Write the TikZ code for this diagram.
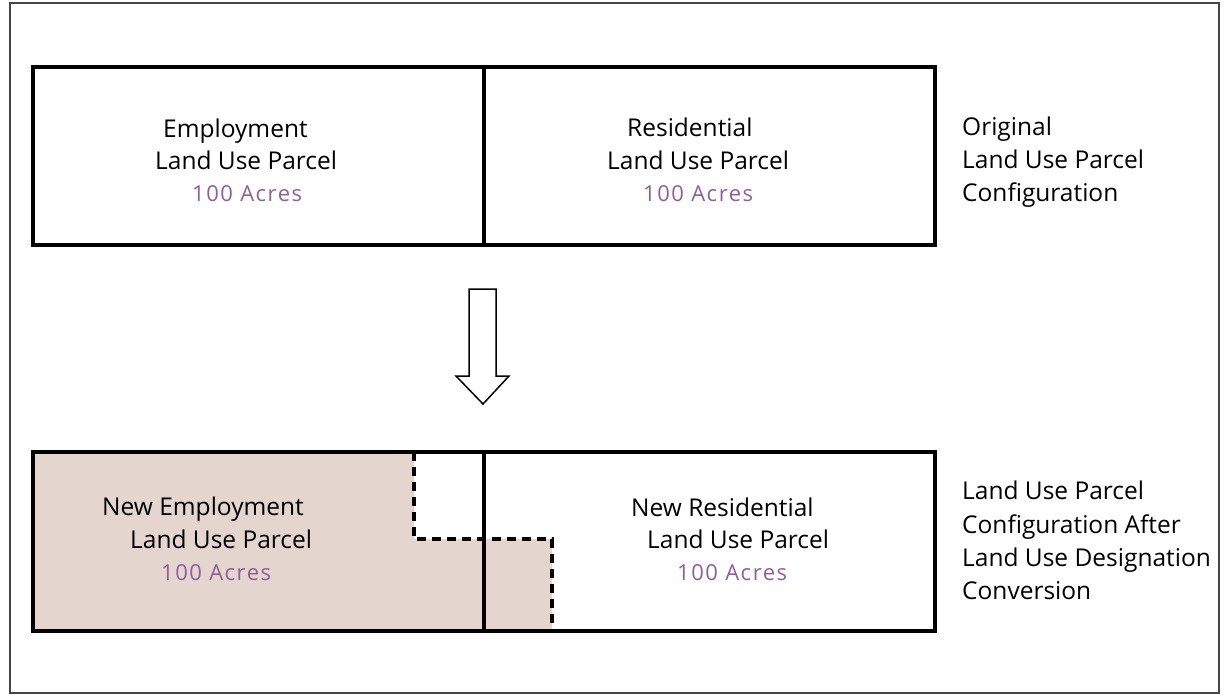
\documentclass[tikz,border=0pt]{standalone}
\usepackage{fontspec}
\setmainfont{Open Sans}
\definecolor{parcelfill}{RGB}{229,213,207}
\definecolor{acrecol}{RGB}{142,95,155}
\definecolor{framecol}{RGB}{70,70,70}
\begin{document}
\begin{tikzpicture}[x=1pt,y=-1pt,
  boxline/.style={line width=4.5pt,black},
  divline/.style={line width=3.3pt,black},
  dashline/.style={line width=3.3pt,black,dash pattern=on 9pt off 6pt},
  lbl/.style={anchor=base west,inner sep=0pt,font=\fontsize{24.5}{28}\selectfont},
  acre/.style={lbl,text=acrecol,font=\fontsize{22}{26}\selectfont\addfontfeature{LetterSpace=7}},
  arrowshape/.style={line width=1.5pt,black,fill=white}]
\useasboundingbox (0,0) rectangle (1224,694);
\draw[framecol,line width=1.5pt] (10,3) rectangle (1219,693);
% bottom fill
\fill[parcelfill] (33,452) -- (414,452) -- (414,539) -- (552,539) -- (552,631) -- (33,631) -- cycle;
% boxes
\coordinate (tnw) at (33,67); \coordinate (tse) at (935,245);
\coordinate (bnw) at (33,452); \coordinate (bse) at (935,631);
\draw[boxline] (tnw) rectangle (tse);
\draw[boxline] (bnw) rectangle (bse);
\coordinate (td1) at (484,67); \coordinate (td2) at (484,245);
\coordinate (bd1) at (484,452); \coordinate (bd2) at (484,631);
\draw[divline] (td1) -- (td2);
\draw[divline] (bd1) -- (bd2);
% dashed boundary
\coordinate (d1) at (414,452); \coordinate (d2) at (414,539);
\coordinate (d3) at (552,539); \coordinate (d4) at (552,631);
\draw[dashline] (d1) -- (d2) -- (d3) -- (d4);
% arrow
\draw[arrowshape] (469,289) -- (496,289) -- (496,376) -- (509,376) -- (483,404) -- (456,376) -- (469,376) -- cycle;
% top texts
\node[lbl] (e1) at (163,137) {Employment};
\node[lbl] (e2) at (155,169) {Land Use Parcel};
\node[acre] (e3) at (192,201) {100 Acres};
\node[lbl] (r1) at (627,136) {Residential};
\node[lbl] (r2) at (607,169) {Land Use Parcel};
\node[acre] (r3) at (643,201) {100 Acres};
\node[lbl] (o1) at (962,135) {Original};
\node[lbl] (o2) at (962,168) {Land Use Parcel};
\node[lbl] (o3) at (962,201) {Configuration};
% bottom texts
\node[lbl] (ne1) at (102,515) {New Employment};
\node[lbl] (ne2) at (130,548) {Land Use Parcel};
\node[acre] (ne3) at (161,580) {100 Acres};
\node[lbl] (nr1) at (631,516) {New Residential};
\node[lbl] (nr2) at (647,548) {Land Use Parcel};
\node[acre] (nr3) at (677,580) {100 Acres};
\node[lbl] (c1) at (962,499) {Land Use Parcel};
\node[lbl] (c2) at (962,533) {Configuration After};
\node[lbl] (c3) at (962,566) {Land Use Designation};
\node[lbl] (c4) at (962,599) {Conversion};
\end{tikzpicture}
\end{document}
